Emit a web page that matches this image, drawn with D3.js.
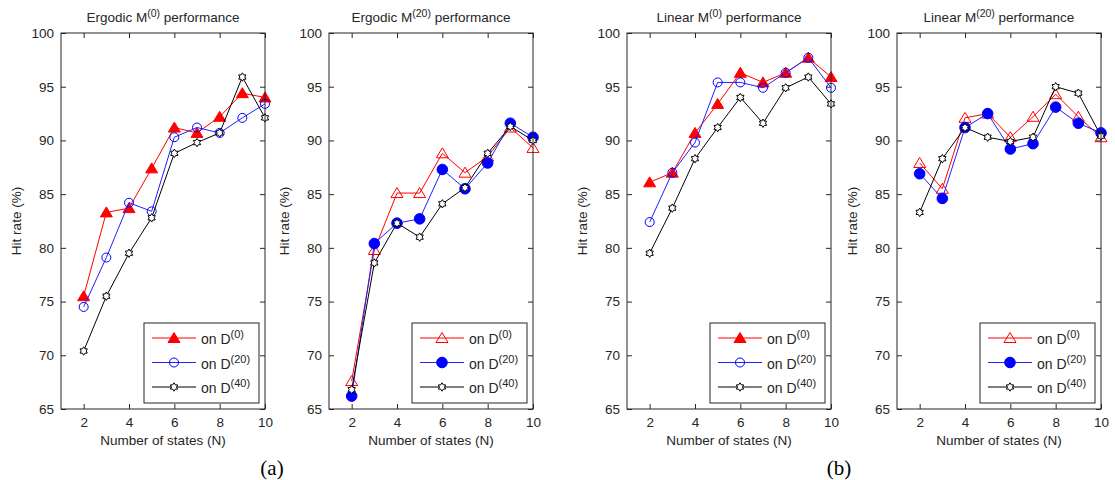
<!DOCTYPE html>
<html>
<head>
<meta charset="utf-8">
<script src="https://cdn.jsdelivr.net/npm/d3@7"></script>
<style>
  body { margin: 0; background: #fff; }
  text { font-family: "Liberation Sans", Arial, sans-serif; fill: #262626; }
</style>
</head>
<body>
<svg width="1115" height="480"></svg>
<script>
const states = [2, 3, 4, 5, 6, 7, 8, 9, 10];
const yTicks = [65, 70, 75, 80, 85, 90, 95, 100];
const xTicks = [2, 4, 6, 8, 10];

const titles = ["Ergodic M", "Ergodic M", "Linear M", "Linear M"];
const titleSups = ["(0)", "(20)", "(0)", "(20)"];
const legendSups = ["(0)", "(20)", "(40)"];

// Ergodic M(0)
const ergodic0_D0 = [75.5, 83.3, 83.7, 87.4, 91.2, 90.7, 92.2, 94.4, 94.0];
const ergodic0_D20 = [74.5, 79.1, 84.2, 83.4, 90.3, 91.2, 90.7, 92.1, 93.4];
const ergodic0_D40 = [70.4, 75.5, 79.5, 82.8, 88.8, 89.8, 90.7, 95.9, 92.1];
// Ergodic M(20)
const ergodic20_D0 = [67.6, 79.8, 85.1, 85.1, 88.8, 87.0, 88.5, 91.2, 89.3];
const ergodic20_D20 = [66.2, 80.4, 82.3, 82.7, 87.3, 85.5, 87.9, 91.6, 90.3];
const ergodic20_D40 = [66.8, 78.6, 82.3, 81.0, 84.1, 85.6, 88.8, 91.3, 90.0];
// Linear M(0)
const linear0_D0 = [86.1, 87.0, 90.7, 93.4, 96.3, 95.4, 96.3, 97.7, 95.9];
const linear0_D20 = [82.4, 87.0, 89.8, 95.4, 95.4, 94.9, 96.3, 97.7, 94.9];
const linear0_D40 = [79.5, 83.7, 88.3, 91.2, 94.0, 91.6, 94.9, 95.9, 93.4];
// Linear M(20)
const linear20_D0 = [87.9, 85.5, 92.1, 92.5, 90.3, 92.2, 94.3, 92.2, 90.3];
const linear20_D20 = [86.9, 84.6, 91.2, 92.5, 89.2, 89.7, 93.1, 91.6, 90.7];
const linear20_D40 = [83.3, 88.3, 91.2, 90.3, 89.9, 90.3, 95.0, 94.4, 90.4];

const svg = d3.select("svg");

const axTop = 33, axBot = 409, axW = 204;
const lefts = [61, 329, 627, 897];

// hexagram marker, like matlab 'h'
function hexagram(r) {
  const pts = d3.range(12).map(i => {
    const a = -Math.PI / 2 + i * Math.PI / 6;
    const rr = i % 2 ? r * 0.6 : r;
    return [rr * Math.cos(a), rr * Math.sin(a)];
  });
  return "M" + pts.join("L") + "Z";
}

function marker(g, kind, cx, cy) {
  if (kind === "triF" || kind === "triO") {
    g.append("path")
      .attr("d", `M${cx},${cy - 5.5}L${cx + 6},${cy + 4.5}L${cx - 6},${cy + 4.5}Z`)
      .attr("fill", kind === "triF" ? "#ff0000" : "none")
      .attr("stroke", "#ff0000");
  } else if (kind === "circO") {
    g.append("circle").attr("cx", cx).attr("cy", cy).attr("r", 4.5)
      .attr("fill", "none").attr("stroke", "#0000ff");
  } else if (kind === "circF") {
    g.append("circle").attr("cx", cx).attr("cy", cy).attr("r", 5.3)
      .attr("fill", "#0000ff").attr("stroke", "#0000ff");
  } else {
    g.append("path").attr("transform", `translate(${cx},${cy})`)
      .attr("d", hexagram(4.2))
      .attr("fill", "#fff").attr("stroke", "#000").attr("stroke-width", 1);
  }
}

const panels = [
  { series: [ergodic0_D0, ergodic0_D20, ergodic0_D40], marks: ["triF", "circO", "hex"] },
  { series: [ergodic20_D0, ergodic20_D20, ergodic20_D40], marks: ["triO", "circF", "hex"] },
  { series: [linear0_D0, linear0_D20, linear0_D40], marks: ["triF", "circO", "hex"] },
  { series: [linear20_D0, linear20_D20, linear20_D40], marks: ["triO", "circF", "hex"] }
];
const colors = ["#ff0000", "#2020ff", "#000000"];

panels.forEach((p, pi) => {
  const left = lefts[pi];
  const x = d3.scaleLinear().domain([1, 10]).range([left, left + axW]);
  const y = d3.scaleLinear().domain([65, 100]).range([axBot, axTop]);
  const g = svg.append("g");

  g.append("rect")
    .attr("x", left).attr("y", axTop).attr("width", axW).attr("height", axBot - axTop)
    .attr("fill", "#fff");

  // axes with inward ticks
  const xb = g.append("g").attr("transform", `translate(0,${axBot})`)
    .call(d3.axisBottom(x).tickValues(xTicks).tickSizeInner(-5).tickSizeOuter(0).tickPadding(8));
  const xt = g.append("g").attr("transform", `translate(0,${axTop})`)
    .call(d3.axisTop(x).tickValues(xTicks).tickSizeInner(-5).tickSizeOuter(0).tickFormat(""));
  const yl = g.append("g").attr("transform", `translate(${left},0)`)
    .call(d3.axisLeft(y).tickValues(yTicks).tickSizeInner(-5).tickSizeOuter(0).tickPadding(7));
  const yr = g.append("g").attr("transform", `translate(${left + axW},0)`)
    .call(d3.axisRight(y).tickValues(yTicks).tickSizeInner(-5).tickSizeOuter(0).tickFormat(""));
  [xb, xt, yl, yr].forEach(a => {
    a.select(".domain").remove();
    a.selectAll("line").attr("stroke", "#262626");
    a.selectAll("text").attr("font-size", 13.5).attr("fill", "#262626")
      .style("font-family", '"Liberation Sans", Arial, sans-serif');
  });

  // series
  const line = d3.line().x((d, i) => x(states[i])).y(d => y(d));
  p.series.forEach((s, si) => {
    g.append("path").attr("d", line(s)).attr("fill", "none")
      .attr("stroke", colors[si]).attr("stroke-width", 1);
    s.forEach((v, i) => marker(g, p.marks[si], x(states[i]), y(v)));
  });

  g.append("rect")
    .attr("x", left).attr("y", axTop).attr("width", axW).attr("height", axBot - axTop)
    .attr("fill", "none").attr("stroke", "#262626");

  // legend
  const lw = 115, lh = 80;
  const lx = left + axW - 6 - lw, ly = axBot - 6 - lh;
  const lg = g.append("g");
  lg.append("rect").attr("x", lx).attr("y", ly).attr("width", lw).attr("height", lh)
    .attr("fill", "#fff").attr("stroke", "#262626");
  [0, 1, 2].forEach(k => {
    const ry = ly + 15 + k * 24.5;
    lg.append("line").attr("x1", lx + 8).attr("x2", lx + 52).attr("y1", ry).attr("y2", ry)
      .attr("stroke", colors[k]);
    marker(lg, p.marks[k], lx + 30, ry);
    const t = lg.append("text").attr("x", lx + 57).attr("y", ry + 6).attr("font-size", 14);
    t.append("tspan").text("on D");
    t.append("tspan").attr("dy", -6).attr("font-size", 11).text(legendSups[k]);
  });

  // title
  const tt = g.append("text").attr("x", left + axW / 2).attr("y", 22)
    .attr("text-anchor", "middle").attr("font-size", 13.5);
  tt.append("tspan").text(titles[pi]);
  tt.append("tspan").attr("dy", -5).attr("font-size", 10.5).text(titleSups[pi]);
  tt.append("tspan").attr("dy", 5).text(" performance");

  // axis labels
  g.append("text").attr("x", left + axW / 2).attr("y", 445)
    .attr("text-anchor", "middle").attr("font-size", 13.5).text("Number of states (N)");
  g.append("text")
    .attr("transform", `translate(${left - 40},${(axTop + axBot) / 2}) rotate(-90)`)
    .attr("text-anchor", "middle").attr("font-size", 13.5).text("Hit rate (%)");
});

// sub-figure labels
svg.append("text").attr("x", 272).attr("y", 475).attr("text-anchor", "middle")
  .attr("font-size", 21).style("font-family", '"Liberation Serif", "DejaVu Serif", serif')
  .style("fill", "#000").text("(a)");
svg.append("text").attr("x", 839).attr("y", 475).attr("text-anchor", "middle")
  .attr("font-size", 21).style("font-family", '"Liberation Serif", "DejaVu Serif", serif')
  .style("fill", "#000").text("(b)");
</script>
</body>
</html>
